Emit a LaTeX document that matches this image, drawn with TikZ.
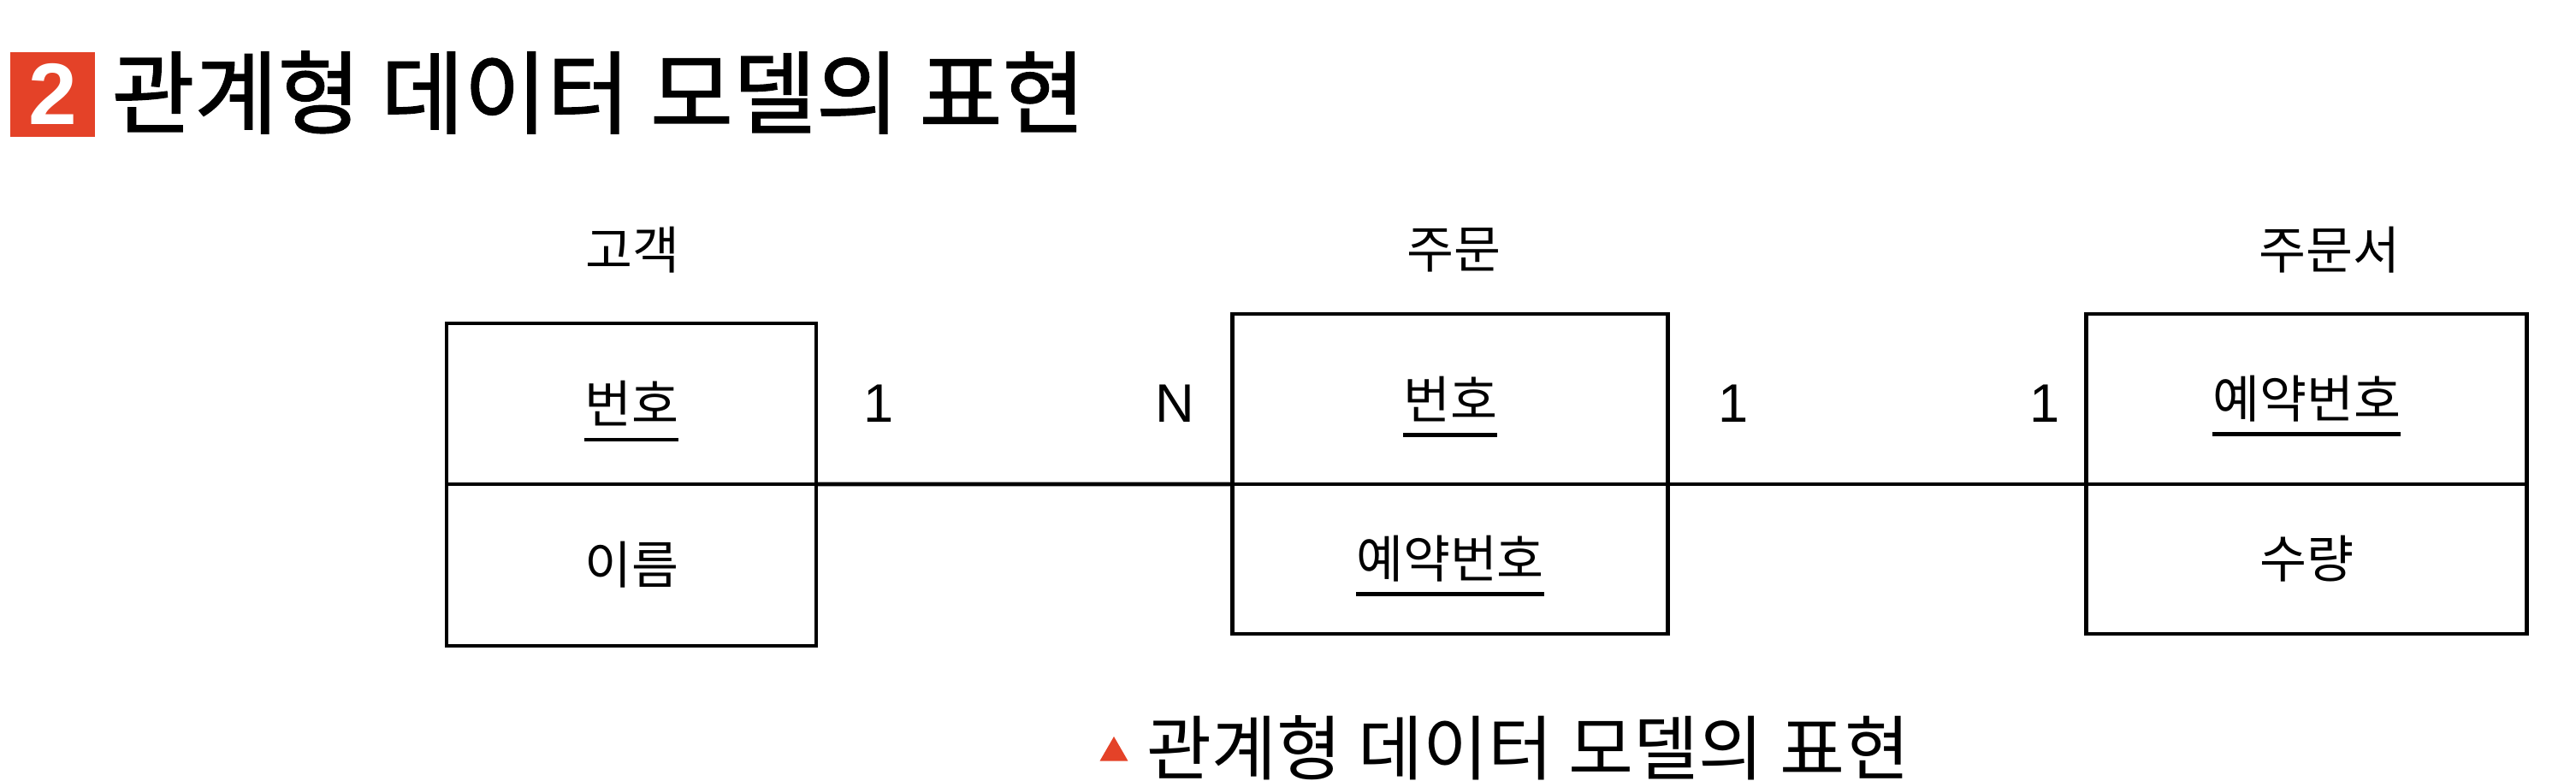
\documentclass[tikz,border=0pt]{standalone}
\usepackage{fontspec}
\usepackage{tikz}
\usetikzlibrary{positioning,shapes.geometric}
\setmainfont{Noto Sans CJK KR}
\newfontfamily\titlefont[FakeBold=1.3]{Noto Sans CJK KR}
\newfontfamily\digitfont{Liberation Sans}
\definecolor{headred}{RGB}{228, 66, 40}
\newcommand{\pkey}[1]{\setbox0=\hbox{#1}\rlap{\copy0}\smash{\rule[-0.36em]{\wd0}{1.4pt}}}

\begin{document}
\begin{tikzpicture}[
  cell/.style={draw, line width=1.4pt, outer sep=0pt, inner sep=0pt, font=\fontsize{17}{20}\selectfont},
  entity/.style={font=\fontsize{17}{20}\selectfont},
  card/.style={font=\digitfont\fontsize{18}{20}\selectfont}
]
\useasboundingbox (0,0) rectangle (30.11,-9.12);
% title
\node[fill=headred, minimum size=0.99cm, inner sep=0pt, text=white, font=\digitfont\bfseries\fontsize{29}{29}\selectfont] (num) at (0.615,-1.10) {2};
\node[anchor=west, inner sep=0pt, font=\titlefont\fontsize{30}{32}\selectfont] (title) at (1.30,-1.08) {관계형 데이터 모델의 표현};
% entities
\node[entity] (cust) at (7.39,-2.92) {고객};
\node[entity] (ord) at (16.99,-2.92) {주문};
\node[entity] (form) at (27.23,-2.92) {주문서};
\node[cell, minimum width=4.32cm, minimum height=1.88cm] (cust-key) at (7.38,-4.72) {\pkey{번호}};
\node[cell, minimum width=4.32cm, minimum height=1.89cm, below=0pt of cust-key] (cust-name) {이름};
\node[cell, minimum width=5.09cm, minimum height=1.99cm] (ord-key) at (16.95,-4.665) {\pkey{번호}};
\node[cell, minimum width=5.09cm, minimum height=1.75cm, below=0pt of ord-key] (ord-ref) {\pkey{예약번호}};
\node[cell, minimum width=5.15cm, minimum height=1.99cm] (form-key) at (26.96,-4.665) {\pkey{예약번호}};
\node[cell, minimum width=5.15cm, minimum height=1.75cm, below=0pt of form-key] (form-qty) {수량};
% relations
\draw[line width=1.4pt] (cust-key.south east) -- (ord-key.south west);
\draw[line width=1.4pt] (ord-key.south east) -- (form-key.south west);
\node[card] (c1) at (10.27,-4.72) {1};
\node[card] (cn) at (13.73,-4.72) {N};
\node[card] (c2) at (20.26,-4.72) {1};
\node[card] (c3) at (23.90,-4.72) {1};
% caption
\node[regular polygon, regular polygon sides=3, fill=headred, minimum size=0.38cm, inner sep=0pt] (mark) at (13.02,-8.80) {};
\node[anchor=west, inner sep=0pt, font=\fontsize{23.5}{25}\selectfont] (caption) at (13.40,-8.74) {관계형 데이터 모델의 표현};
\end{tikzpicture}
\end{document}
